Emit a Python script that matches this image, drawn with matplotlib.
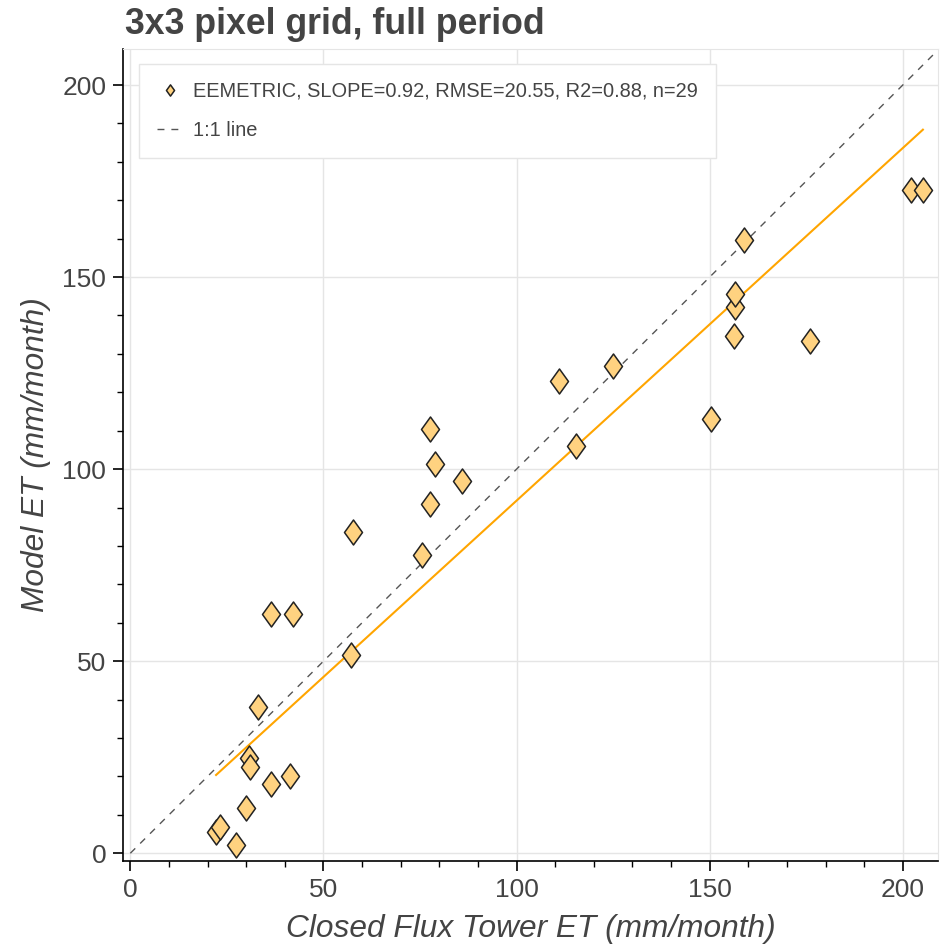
import numpy as np
import matplotlib
matplotlib.use("Agg")
from matplotlib import pyplot as plt
from matplotlib.path import Path
from matplotlib.ticker import MultipleLocator

# tower ET (x) vs model ET (y), mm/month
tower_et = [22.2, 23.2, 27.3, 29.9, 30.6, 31.0, 33.0, 36.4, 36.5, 41.4,
            42.2, 57.1, 57.6, 75.4, 77.5, 77.7, 78.8, 86.0, 110.9, 115.4,
            124.9, 150.4, 156.2, 156.5, 156.5, 158.8, 176.1, 202.1, 205.2]
model_et = [5.6, 6.9, 2.1, 11.8, 24.8, 22.5, 38.2, 18.1, 62.2, 20.0,
            62.2, 51.6, 83.7, 77.7, 90.9, 110.5, 101.3, 97.0, 123.0, 106.1,
            126.9, 113.1, 134.6, 142.2, 145.6, 159.7, 133.4, 172.7, 172.7]

title = "3x3 pixel grid, full period"
label = "EEMETRIC, SLOPE=0.92, RMSE=20.55, R2=0.88, n=29"

plt.rcParams['font.family'] = ['Liberation Sans', 'DejaVu Sans']

x = np.array(tower_et)
y = np.array(model_et)
slope = np.sum(x * y) / np.sum(x * x)  # fit through origin

# bokeh style diamond (taller than wide)
diamond = Path([(0, 1), (0.72, 0), (0, -1), (-0.72, 0), (0, 1)],
               [Path.MOVETO, Path.LINETO, Path.LINETO, Path.LINETO, Path.CLOSEPOLY])

fig = plt.figure(figsize=(9.46, 9.46), dpi=100)
ax = fig.add_axes([0.130, 0.0899, 0.8615, 0.858])

ax.plot(x, y, linestyle='none', marker=diamond, markersize=18,
        markerfacecolor='#ffd280', markeredgecolor='#222222', markeredgewidth=1.1,
        label=label, zorder=3)
xl = np.array([x.min(), x.max()])
ax.plot(xl, slope * xl, color='orange', lw=1.5, zorder=2)
ax.plot([0, 208], [0, 208], color='#555555', lw=1.0, dashes=(5, 5), label='1:1 line', zorder=2)

ax.set_xlim(-1.9, 209.1)
ax.set_ylim(-2.0, 209.3)

ax.xaxis.set_major_locator(MultipleLocator(50))
ax.yaxis.set_major_locator(MultipleLocator(50))
ax.xaxis.set_minor_locator(MultipleLocator(10))
ax.yaxis.set_minor_locator(MultipleLocator(10))
ax.tick_params(which='major', length=7, width=1.2, color='black', labelsize=19,
               labelcolor='#444444', pad=5)
ax.tick_params(which='minor', length=4, width=1.0, color='black')
ax.grid(True, which='major', color='#e5e5e5', lw=1)
ax.set_axisbelow(True)

for s in ['top', 'right']:
    ax.spines[s].set_color('#e5e5e5')
for s in ['left', 'bottom']:
    ax.spines[s].set_color('black')
    ax.spines[s].set_linewidth(1.2)

ax.set_xlabel("Closed Flux Tower ET (mm/month)", fontsize=22.8, style='italic',
              color='#444444', labelpad=9)
ax.set_ylabel("Model ET (mm/month)", fontsize=22.8, style='italic',
              color='#444444', labelpad=8)

fig.text(0.132, 0.964, title, fontsize=25.7, fontweight='bold', color='#444444',
         ha='left', va='baseline')

leg = ax.legend(loc='upper left', bbox_to_anchor=(0.0196, 0.982), fontsize=14.4,
                frameon=True, fancybox=False, edgecolor='#e5e5e5', framealpha=1,
                markerscale=0.45, handlelength=1.3, handletextpad=0.5,
                borderpad=0.9, labelspacing=1.0, borderaxespad=0)
leg.get_frame().set_linewidth(1.0)
for t in leg.get_texts():
    t.set_color('#444444')

fig.savefig('out.png', dpi=100)
